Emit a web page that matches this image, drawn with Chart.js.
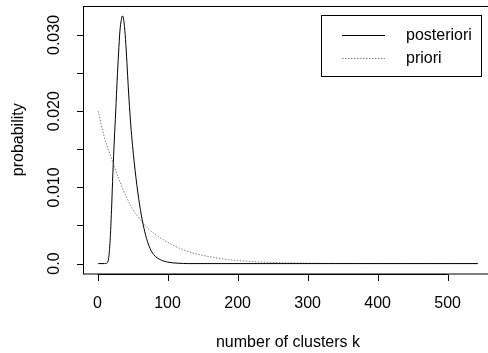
<!DOCTYPE html>
<html>
<head>
<meta charset="utf-8">
<script src="https://cdn.jsdelivr.net/npm/chart.js@4"></script>
<style>
  html, body { margin: 0; padding: 0; background: #fff; overflow: hidden; }
  canvas { display: block; }
</style>
</head>
<body>
<canvas id="myChart" width="500" height="353"></canvas>
<script>
// values
const postK = [1, 10, 14, 16, 18, 20, 22, 24, 26, 28, 30, 32, 34, 35.5, 37, 39, 41, 43, 45, 47.5, 50, 55, 60, 65, 70, 75, 80, 90, 100, 115, 130, 543];
const postP = [0, 0, 0.0001, 0.0008, 0.003, 0.007, 0.012, 0.0162, 0.02, 0.024, 0.0275, 0.0305, 0.032, 0.0325, 0.0322, 0.0306, 0.028, 0.0247, 0.0215, 0.0182, 0.0155, 0.0112, 0.0078, 0.0052, 0.0033, 0.002, 0.0012, 0.0005, 0.0002, 0.00005, 0, 0];
const priorK = [1, 10, 20, 30, 40, 50, 60, 70, 80, 100, 120, 140, 160, 180, 200, 250, 300, 350, 400, 543];
const priorP = [0.02, 0.0165, 0.0138, 0.0112, 0.009, 0.0072, 0.0059, 0.0048, 0.004, 0.0028, 0.0019, 0.0013, 0.0009, 0.0006, 0.0004, 0.00015, 0.00006, 0.00002, 0, 0];
const xTicks = [0, 100, 200, 300, 400, 500];
const yTicks = [0, 0.005, 0.01, 0.015, 0.02, 0.025, 0.03];
const yTickLabels = ["0.0", "", "0.010", "", "0.020", "", "0.030"];
const seriesNames = ["posteriori", "priori"];

const FONT = '16px "Liberation Sans", Arial, Helvetica, sans-serif';

function toPoints(xs, ys) {
  return xs.map((x, i) => ({ x: x, y: ys[i] }));
}

// R style box, axes, labels and legend
const baseAxes = {
  id: "baseAxes",
  afterDraw(chart) {
    const ctx = chart.ctx;
    const a = chart.chartArea;
    const xs = chart.scales.x, ys = chart.scales.y;
    ctx.save();
    ctx.strokeStyle = "#000";
    ctx.fillStyle = "#000";
    ctx.lineWidth = 1;
    ctx.font = FONT;

    // box
    ctx.strokeRect(Math.round(a.left) + 0.5, Math.round(a.top) + 0.5, a.right - a.left, a.bottom - a.top);

    // x axis
    const by = Math.round(a.bottom) + 0.5;
    ctx.beginPath();
    ctx.moveTo(xs.getPixelForValue(xTicks[0]), by);
    ctx.lineTo(xs.getPixelForValue(xTicks[xTicks.length - 1]), by);
    xTicks.forEach(t => {
      const px = Math.round(xs.getPixelForValue(t)) + 0.5;
      ctx.moveTo(px, by);
      ctx.lineTo(px, by + 6.5);
    });
    ctx.stroke();
    ctx.textAlign = "center";
    ctx.textBaseline = "middle";
    xTicks.forEach(t => {
      ctx.fillText(String(t), xs.getPixelForValue(t), 303.5);
    });
    ctx.fillText("number of clusters k", (a.left + a.right) / 2, 342.5);

    // y axis
    const lx = Math.round(a.left) + 0.5;
    ctx.beginPath();
    ctx.moveTo(lx, ys.getPixelForValue(yTicks[0]));
    ctx.lineTo(lx, ys.getPixelForValue(yTicks[yTicks.length - 1]));
    yTicks.forEach(t => {
      const py = Math.round(ys.getPixelForValue(t)) + 0.5;
      ctx.moveTo(lx, py);
      ctx.lineTo(lx - 6.5, py);
    });
    ctx.stroke();
    yTicks.forEach((t, i) => {
      if (!yTickLabels[i]) return;
      ctx.save();
      ctx.translate(55, ys.getPixelForValue(t));
      ctx.rotate(-Math.PI / 2);
      ctx.fillText(yTickLabels[i], 0, 0);
      ctx.restore();
    });
    ctx.save();
    ctx.translate(19, (a.top + a.bottom) / 2);
    ctx.rotate(-Math.PI / 2);
    ctx.fillText("probability", 0, 0);
    ctx.restore();

    // legend
    ctx.strokeRect(321.5, 15.5, 160, 61);
    const rows = [35.5, 58.5];
    chart.data.datasets.forEach((ds, i) => {
      ctx.save();
      ctx.strokeStyle = ds.borderColor;
      ctx.setLineDash(ds.borderDash || []);
      ctx.beginPath();
      ctx.moveTo(342, rows[i]);
      ctx.lineTo(385, rows[i]);
      ctx.stroke();
      ctx.restore();
      ctx.textAlign = "left";
      ctx.fillText(ds.label, 406, rows[i]);
    });
    ctx.restore();
  }
};

new Chart("myChart", {
  type: "line",
  data: {
    datasets: [{
      label: seriesNames[0],
      data: toPoints(postK, postP),
      borderColor: "#000",
      borderWidth: 1,
      pointRadius: 0,
      cubicInterpolationMode: "monotone"
    }, {
      label: seriesNames[1],
      data: toPoints(priorK, priorP),
      borderColor: "#808080",
      borderWidth: 1,
      borderDash: [1.5, 1.5],
      pointRadius: 0,
      cubicInterpolationMode: "monotone"
    }]
  },
  plugins: [baseAxes],
  options: {
    responsive: false,
    animation: false,
    layout: {
      padding: { left: 83, right: 7, top: 6, bottom: 79.5 }
    },
    scales: {
      x: { type: "linear", min: -20.72, max: 564.72, display: false },
      y: { type: "linear", min: -0.0013, max: 0.0338, display: false }
    },
    plugins: {
      legend: { display: false },
      tooltip: { enabled: false }
    }
  }
});
</script>
</body>
</html>
